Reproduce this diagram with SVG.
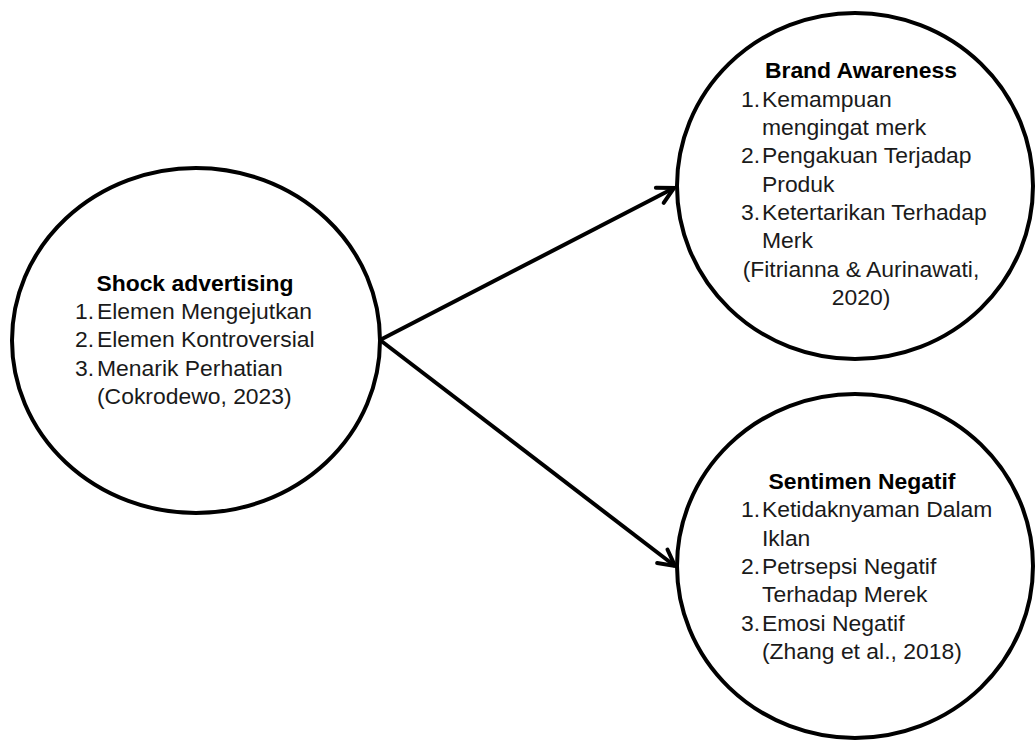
<svg xmlns="http://www.w3.org/2000/svg" width="1035" height="740" viewBox="0 0 1035 740">
<style>
.node{fill:#fff;stroke:#000;stroke-width:4}
.t{font-family:"Liberation Sans",Arial,sans-serif;font-size:22.9px;fill:#1a1a1a}
.b{font-weight:bold;fill:#000}
.c{text-anchor:middle}
.edge{stroke:#000;stroke-width:4;fill:none}
</style>
<defs>
<marker id="arr" markerUnits="userSpaceOnUse" markerWidth="30" markerHeight="30" viewBox="-20 -15 30 30" refX="0" refY="0" orient="auto">
<path d="M-16,-8.5 L0,0 L-16,8.5" fill="none" stroke="#000" stroke-width="4" stroke-linecap="round" stroke-linejoin="miter"/>
</marker>
</defs>
<rect width="1035" height="740" fill="#fff"/>
<g id="connectors">
<line class="edge" x1="380" y1="340" x2="674" y2="188" marker-end="url(#arr)"/>
<line class="edge" x1="380" y1="340" x2="675" y2="566" marker-end="url(#arr)"/>
</g>
<g id="shock">
<ellipse class="node" cx="196" cy="340.5" rx="184" ry="172.5"/>
<text class="t b c" x="195" y="291">Shock advertising</text>
<text class="t" x="75" y="319">1.</text><text class="t" x="97" y="319">Elemen Mengejutkan</text>
<text class="t" x="75" y="347">2.</text><text class="t" x="97" y="347">Elemen Kontroversial</text>
<text class="t" x="75" y="376">3.</text><text class="t" x="97" y="376">Menarik Perhatian</text>
<text class="t" x="97" y="404">(Cokrodewo, 2023)</text>
</g>
<g id="brand">
<ellipse class="node" cx="855" cy="186" rx="178" ry="173"/>
<text class="t b c" x="861" y="78">Brand Awareness</text>
<text class="t" x="741" y="107">1.</text><text class="t" x="762" y="107">Kemampuan</text>
<text class="t" x="762" y="135">mengingat merk</text>
<text class="t" x="741" y="163">2.</text><text class="t" x="762" y="163">Pengakuan Terjadap</text>
<text class="t" x="762" y="192">Produk</text>
<text class="t" x="741" y="220">3.</text><text class="t" x="762" y="220">Ketertarikan Terhadap</text>
<text class="t" x="762" y="248">Merk</text>
<text class="t c" x="861" y="277">(Fitrianna &amp; Aurinawati,</text>
<text class="t c" x="861" y="305">2020)</text>
</g>
<g id="sentimen">
<ellipse class="node" cx="855" cy="566" rx="178" ry="172"/>
<text class="t b c" x="862" y="489">Sentimen Negatif</text>
<text class="t" x="741" y="517">1.</text><text class="t" x="762" y="517">Ketidaknyaman Dalam</text>
<text class="t" x="762" y="546">Iklan</text>
<text class="t" x="741" y="574">2.</text><text class="t" x="762" y="574">Petrsepsi Negatif</text>
<text class="t" x="762" y="602">Terhadap Merek</text>
<text class="t" x="741" y="631">3.</text><text class="t" x="762" y="631">Emosi Negatif</text>
<text class="t" x="762" y="659">(Zhang et al., 2018)</text>
</g>
</svg>
